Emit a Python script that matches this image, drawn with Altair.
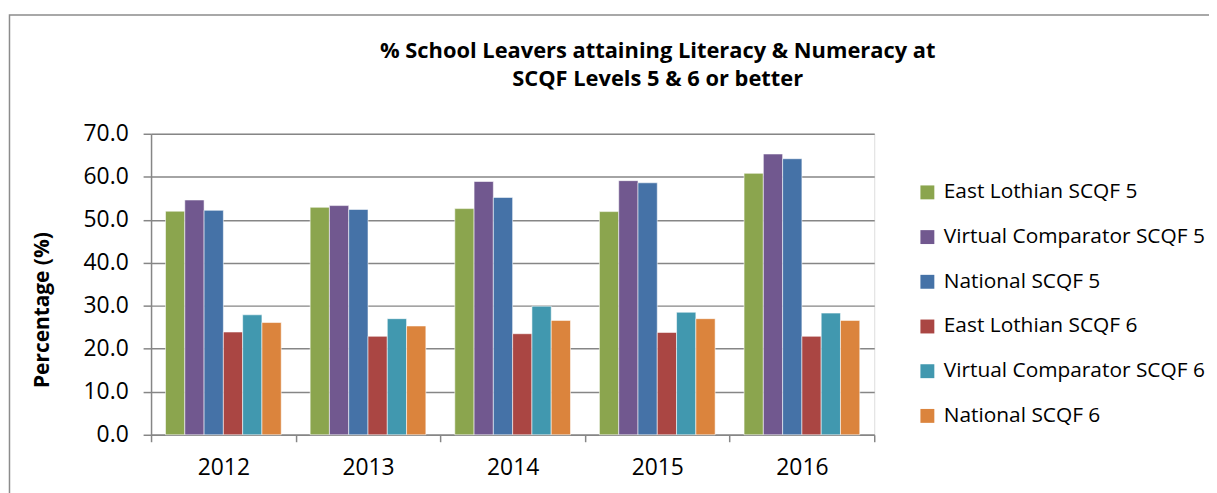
import altair as alt
import pandas as pd

years = ["2012", "2013", "2014", "2015", "2016"]
series_names = [
    "East Lothian SCQF 5",
    "Virtual Comparator SCQF 5",
    "National SCQF 5",
    "East Lothian SCQF 6",
    "Virtual Comparator SCQF 6",
    "National SCQF 6",
]
east_lothian_5 = [52.0, 52.9, 52.6, 51.9, 60.8]
virtual_comp_5 = [54.6, 53.3, 58.9, 59.1, 65.3]
national_5 = [52.2, 52.4, 55.2, 58.6, 64.2]
east_lothian_6 = [23.9, 22.9, 23.5, 23.8, 22.9]
virtual_comp_6 = [27.9, 27.0, 29.9, 28.5, 28.3]
national_6 = [26.1, 25.3, 26.6, 27.0, 26.6]
colors = ["#8BA54E", "#71588F", "#4572A7", "#AA4643", "#4198AF", "#DB843D"]
title_lines = ["% School Leavers attaining Literacy & Numeracy at",
               "SCQF Levels 5 & 6 or better"]
y_ticks = [0, 10, 20, 30, 40, 50, 60, 70]

all_series = [east_lothian_5, virtual_comp_5, national_5,
              east_lothian_6, virtual_comp_6, national_6]
rows = []
for name, vals in zip(series_names, all_series):
    for y, v in zip(years, vals):
        rows.append({"year": y, "series": name, "value": v})
df = pd.DataFrame(rows)

FONT = "Open Sans"
GRAY = "#868686"

bars = alt.Chart(df).mark_bar(stroke="#ffffff", strokeWidth=0.8, strokeOpacity=0.7).encode(
    x=alt.X("year:N", sort=years,
            scale=alt.Scale(paddingInner=0, paddingOuter=0),
            axis=alt.Axis(title=None, labelAngle=0, tickBand="extent",
                          labelFont=FONT, labelFontSize=23, labelColor="#000000",
                          labelPadding=15, tickSize=7, tickColor=GRAY, tickWidth=1.5,
                          domainColor=GRAY, domainWidth=1.5, grid=False)),
    xOffset=alt.XOffset("series:N", sort=series_names,
                        scale=alt.Scale(paddingInner=0, paddingOuter=0.75)),
    y=alt.Y("value:Q",
            scale=alt.Scale(domain=[0, 70], nice=False),
            axis=alt.Axis(title="Percentage (%)", values=y_ticks,
                          format=".1f", labelFont=FONT, labelFontSize=23,
                          labelColor="#000000", labelPadding=15, tickSize=8,
                          tickColor=GRAY, tickWidth=1.5, domainColor=GRAY, domainWidth=1.5,
                          gridColor=GRAY, gridWidth=1.5,
                          titleFont=FONT, titleFontSize=21, titleFontWeight="bold",
                          titleColor="#000000", titleX=-109, titleY=177,
                          titleAlign="center", titleBaseline="middle", titleAngle=270)),
    color=alt.Color("series:N", sort=series_names,
                    scale=alt.Scale(domain=series_names, range=colors),
                    legend=alt.Legend(title=None, orient="none", legendX=771, legendY=48.5,
                                      symbolType="square", symbolSize=196,
                                      symbolStrokeWidth=0, labelFont=FONT,
                                      labelFontSize=21, labelColor="#000000",
                                      labelOffset=6, rowPadding=23, padding=0,
                                      labelLimit=400)),
)

frame = alt.Chart(alt.Data(values=[{}])).mark_rect(
    fill=None, stroke="#8c8c8c", strokeWidth=1.5
).encode(
    x=alt.value(-142.5), x2=alt.value(1200), y=alt.value(-119.5), y2=alt.value(520)
)

title1 = alt.Chart(alt.Data(values=[{}])).mark_text(
    text=title_lines[0], font=FONT, fontSize=22, fontWeight="bold", color="#000000",
    align="center", baseline="middle"
).encode(x=alt.value(510), y=alt.value(-83))

title2 = alt.Chart(alt.Data(values=[{}])).mark_text(
    text=title_lines[1], font=FONT, fontSize=22, fontWeight="bold", color="#000000",
    align="center", baseline="middle"
).encode(x=alt.value(510), y=alt.value(-55))

chart = alt.layer(frame, title1, title2, bars).properties(
    width=728, height=303,
    autosize=alt.AutoSizeParams(type="none"),
    padding={"left": 144, "top": 125, "right": 337, "bottom": 57},
).configure_view(stroke=None).configure(background="#ffffff")

chart.save("out.html", embed_options={"renderer": "svg", "actions": False})
